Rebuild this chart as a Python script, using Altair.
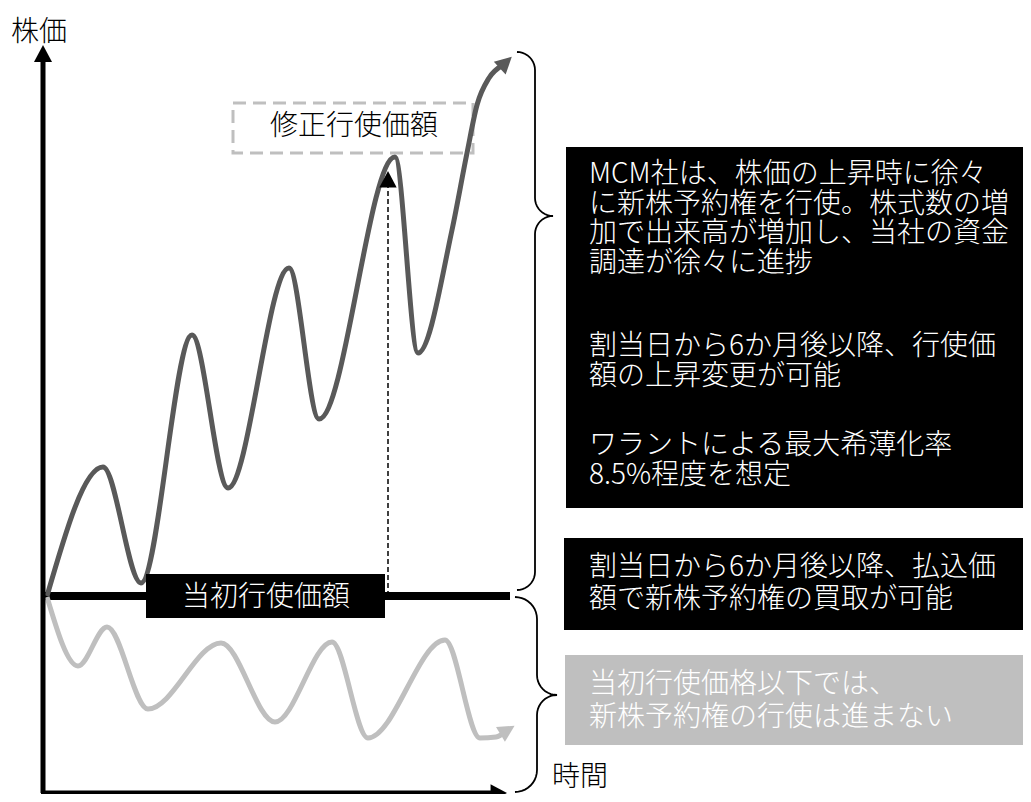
import math
import altair as alt
import pandas as pd

# ---------------- data ----------------
# time runs left->right, price runs upward (same units on both axes)
rise_time = [47, 103, 141, 192, 228, 289, 319, 395, 418, 452, 467, 477, 489, 503]
rise_price = [206, 335, 219, 467, 314, 534, 383, 645, 449, 572, 649, 697, 724, 737]

fall_time = [47, 78, 107, 148, 221, 275, 332, 368, 445, 480, 496, 506]
fall_price = [205, 136, 175, 93, 159, 80, 160, 64, 162, 64, 65, 71]

initial_price = 206          # 当初行使価額
revised_price = 631          # 修正行使価額 (tip of the dashed arrow)
revision_time = 388
origin_time, origin_price = 43, 9
axis_time_end, axis_price_end = 507, 757
initial_line_end = 510

axis_labels = ["株価", "時間"]
label_initial = "当初行使価額"
label_revised = "修正行使価額"
note_a = ["MCM社は、株価の上昇時に徐々", "に新株予約権を行使。株式数の増",
          "加で出来高が増加し、当社の資金", "調達が徐々に進捗",
          "割当日から6か月後以降、行使価", "額の上昇変更が可能",
          "ワラントによる最大希薄化率", "8.5%程度を想定"]
note_b = ["割当日から6か月後以降、払込価", "額で新株予約権の買取が可能"]
note_c = ["当初行使価格以下では、", "新株予約権の行使は進まない"]

# ---------------- layout ----------------
W, H = 1015, 786
FONT = "Noto Sans CJK JP"
DARK, LIGHT = "#595959", "#bfbfbf"
xs = alt.Scale(domain=[8, 1023], nice=False, zero=False)
ys = alt.Scale(domain=[8, 794], nice=False, zero=False)


def X(f):
    return alt.X(f, type="quantitative", scale=xs, axis=None)


def Y(f):
    return alt.Y(f, type="quantitative", scale=ys, axis=None)


# curves
rise = pd.DataFrame({"t": rise_time, "p": rise_price})
fall = pd.DataFrame({"t": fall_time, "p": fall_price})

# arrow head shape: tip at the origin, pointing up
ARROW = "M0,0L-1,1.9L1,1.9Z"


def head_after(ts, ps, ext=12):
    dx, dp = ts[-1] - ts[-2], ps[-1] - ps[-2]
    n = math.hypot(dx, dp)
    ang = math.degrees(math.atan2(dx, dp)) % 360
    return ts[-1] + ext * dx / n, ps[-1] + ext * dp / n, ang


rt, rp, ra = head_after(rise_time, rise_price)
ft, fp, fa = head_after(fall_time, fall_price, ext=10)
heads = pd.DataFrame([
    {"t": origin_time, "p": axis_price_end, "a": 0, "c": "black", "s": 324},
    {"t": axis_time_end, "p": origin_price, "a": 90, "c": "black", "s": 300},
    {"t": revision_time, "p": revised_price, "a": 0, "c": "black", "s": 300},
    {"t": rt, "p": rp, "a": ra, "c": DARK, "s": 300},
    {"t": ft, "p": fp, "a": fa, "c": LIGHT, "s": 300},
])

# axes rules (end under the heads)
axes = pd.DataFrame([
    {"t": origin_time, "t2": origin_time, "p": origin_price, "p2": axis_price_end - 14},
    {"t": origin_time - 2, "t2": axis_time_end - 14, "p": origin_price, "p2": origin_price},
])
initial_line = pd.DataFrame([{"t": origin_time, "t2": initial_line_end,
                              "p": initial_price, "p2": initial_price}])
revision_line = pd.DataFrame([{"t": revision_time, "t2": revision_time,
                               "p": initial_price, "p2": revised_price - 14}])


# braces
def brace(bid, x_end, x_mid, x_tip, p_top, p_tip, p_bot):
    r = x_mid - x_end
    r2 = x_tip - x_mid
    pts = []

    def arc(cx, cy, rad, a0, a1, n=10):
        for k in range(n + 1):
            th = math.radians(a0 + (a1 - a0) * k / n)
            pts.append((cx + rad * math.cos(th), cy + rad * math.sin(th)))

    arc(x_end, p_top - r, r, 90, 0)
    arc(x_mid + r2, p_tip + r2, r2, 180, 270)
    arc(x_mid + r2, p_tip - r2, r2, 90, 180)
    arc(x_end, p_bot + r, r, 0, -90)
    return [{"id": bid, "i": i, "t": a, "p": b} for i, (a, b) in enumerate(pts)]


braces = pd.DataFrame(brace(1, 517, 535, 553, 750, 586, 212) +
                      brace(2, 515, 537, 557, 205, 107, 10))

boxes = pd.DataFrame([
    {"t": 566, "t2": 1031, "p": 655, "p2": 294, "c": "black"},
    {"t": 564, "t2": 1031, "p": 264, "p2": 172, "c": "black"},
    {"t": 565, "t2": 1031, "p": 147, "p2": 57, "c": LIGHT},
    {"t": 146, "t2": 385, "p": 228, "p2": 184, "c": "black"},
])
dashed_box = pd.DataFrame([{"t": 233, "t2": 473, "p": 699, "p2": 649}])

note_a_p = [629, 599.5, 570, 540.5, 457, 427.5, 358, 328.5]
note_b_p = [236, 204]
note_c_p = [119, 86]
texts = (
    [{"t": 589, "p": p, "txt": s, "c": "white", "al": "left"} for s, p in zip(note_a, note_a_p)]
    + [{"t": 589, "p": p, "txt": s, "c": "white", "al": "left"} for s, p in zip(note_b, note_b_p)]
    + [{"t": 589, "p": p, "txt": s, "c": "white", "al": "left"} for s, p in zip(note_c, note_c_p)]
    + [{"t": 266, "p": initial_price, "txt": label_initial, "c": "white", "al": "center"},
       {"t": 354, "p": 677, "txt": label_revised, "c": "black", "al": "center"},
       {"t": 39, "p": 771, "txt": axis_labels[0], "c": "black", "al": "center"},
       {"t": 580, "p": 26, "txt": axis_labels[1], "c": "black", "al": "center"}]
)
texts = pd.DataFrame(texts)

layers = []
layers.append(alt.Chart(braces).mark_line(color="black", strokeWidth=1.8).encode(
    x=X("t"), y=Y("p"), order="i:Q", detail="id:N"))
layers.append(alt.Chart(dashed_box).mark_rect(
    fill="white", stroke=LIGHT, strokeWidth=3, strokeDash=[13, 7]).encode(
    x=X("t"), x2="t2", y=Y("p"), y2="p2"))
layers.append(alt.Chart(initial_line).mark_rule(color="black", strokeWidth=8).encode(
    x=X("t"), x2="t2", y=Y("p"), y2="p2"))
layers.append(alt.Chart(fall).mark_line(color=LIGHT, strokeWidth=5, interpolate="monotone").encode(
    x=X("t"), y=Y("p")))
layers.append(alt.Chart(rise).mark_line(color=DARK, strokeWidth=5, interpolate="monotone").encode(
    x=X("t"), y=Y("p")))
layers.append(alt.Chart(revision_line).mark_rule(color="black", strokeWidth=1.5, strokeDash=[5, 3]).encode(
    x=X("t"), x2="t2", y=Y("p"), y2="p2"))
layers.append(alt.Chart(boxes).mark_rect().encode(
    x=X("t"), x2="t2", y=Y("p"), y2="p2", fill=alt.Fill("c:N", scale=None)))
layers.append(alt.Chart(axes).mark_rule(color="black", strokeWidth=5).encode(
    x=X("t"), x2="t2", y=Y("p"), y2="p2"))
layers.append(alt.Chart(heads).mark_point(shape=ARROW, filled=True, opacity=1, strokeWidth=0).encode(
    x=X("t"), y=Y("p"), angle=alt.Angle("a:Q", scale=None),
    size=alt.Size("s:Q", scale=None), fill=alt.Fill("c:N", scale=None)))
for al in ["left", "center"]:
    layers.append(alt.Chart(texts[texts["al"] == al]).mark_text(
        font=FONT, fontSize=28, fontWeight=300, align=al, baseline="middle", dy=2,
        lineHeight=29).encode(
        x=X("t"), y=Y("p"), text="txt:N", color=alt.Color("c:N", scale=None)))

chart = alt.layer(*layers).properties(
    width=W, height=H, padding=0,
    autosize=alt.AutoSizeParams(type="none"),
    background="white",
).configure_view(stroke=None)

chart.save("out.html", embed_options={"renderer": "svg", "actions": False})
